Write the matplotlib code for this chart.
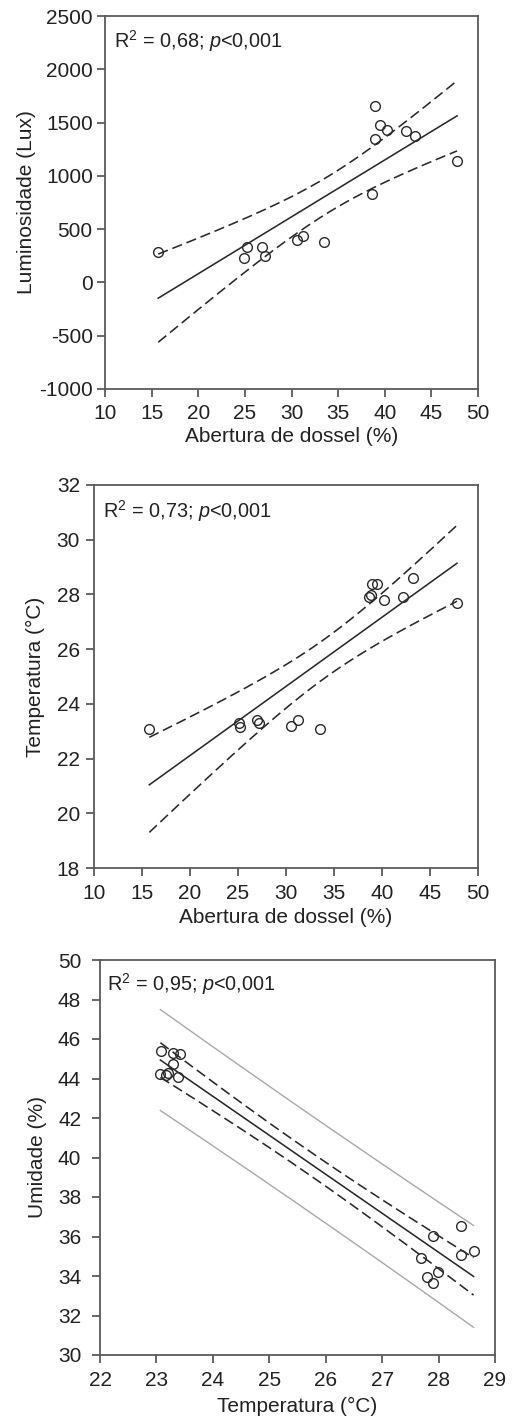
import numpy as np
import matplotlib
matplotlib.use('Agg')
import matplotlib.pyplot as plt

plt.rcParams['font.family'] = ['Liberation Sans', 'DejaVu Sans']
plt.rcParams['mathtext.fontset'] = 'custom'
plt.rcParams['mathtext.rm'] = 'Liberation Sans'
plt.rcParams['mathtext.it'] = 'Liberation Sans:italic'
plt.rcParams['axes.unicode_minus'] = False

# ---------------- data ----------------
dossel_lux = [15.71, 25.18, 24.93, 26.89, 27.21, 30.54, 31.25, 33.50,
              38.68, 38.96, 38.96, 39.46, 40.25, 42.25, 43.25, 47.75]
lux = [281, 331, 228, 331, 244, 394, 437, 378,
       831, 1656, 1350, 1475, 1428, 1419, 1378, 1141]

dossel_temp = [15.76, 25.13, 25.23, 26.93, 27.17, 30.50, 31.27, 33.52,
               38.66, 39.00, 39.49, 38.83, 40.18, 42.20, 43.24, 47.81]
temp = [23.09, 23.30, 23.17, 23.42, 23.30, 23.20, 23.42, 23.09,
        27.90, 28.38, 28.38, 27.98, 27.80, 27.90, 28.59, 27.70]

temp_umid = [23.08, 23.07, 23.21, 23.29, 23.41, 23.30, 23.39, 23.17,
             27.91, 28.40, 28.39, 28.62, 27.69, 27.99, 27.80, 27.91]
umid = [45.41, 44.21, 44.26, 45.31, 45.22, 44.72, 44.09, 44.18,
        36.03, 36.53, 35.06, 35.28, 34.93, 34.22, 33.93, 33.63]

stats_text = [r"R$^{2}$ = 0,68; $p$<0,001",
              r"R$^{2}$ = 0,73; $p$<0,001",
              r"R$^{2}$ = 0,95; $p$<0,001"]
xlabels = ["Abertura de dossel (%)", "Abertura de dossel (%)", "Temperatura (°C)"]
ylabels = ["Luminosidade (Lux)", "Temperatura (°C)", "Umidade (%)"]
xticks_list = [list(range(10, 51, 5)), list(range(10, 51, 5)), list(range(22, 30))]
yticks_list = [list(range(-1000, 2501, 500)), list(range(18, 33, 2)), list(range(30, 51, 2))]

T_975 = 2.1448  # Student t, 0.975, df = 14


def regression(x, y, xs):
    x = np.asarray(x, float)
    y = np.asarray(y, float)
    n = len(x)
    b, a = np.polyfit(x, y, 1)
    yhat = a + b * xs
    s = np.sqrt(np.sum((y - (a + b * x)) ** 2) / (n - 2))
    sxx = np.sum((x - x.mean()) ** 2)
    ci = T_975 * s * np.sqrt(1.0 / n + (xs - x.mean()) ** 2 / sxx)
    pi = T_975 * s * np.sqrt(1.0 + 1.0 / n + (xs - x.mean()) ** 2 / sxx)
    return yhat, ci, pi


W, H = 516, 1417
fig = plt.figure(figsize=(W / 100, H / 100), dpi=100)

# axes boxes in pixels: left, top, right, bottom
boxes = [(105, 16, 478, 389), (94, 485, 478, 868), (100, 960, 495, 1355)]
ytick_pad = [3.0, 4.3, 7.7]
ylabel_pad = [2.5, 8.5, 8.0]
xtick_pad = [5.0, 5.5, 5.5]
xlabel_pad = [3.0, 4.0, 5.0]
text_off = [(9, 12), (9, 13), (7, 11)]
datasets = [(dossel_lux, lux), (dossel_temp, temp), (temp_umid, umid)]
show_pi = [False, False, True]

spine_c = '#5a5a5a'
line_c = '#2a2a2a'

for i in range(3):
    l, t, r, b = boxes[i]
    ax = fig.add_axes([l / W, (H - b) / H, (r - l) / W, (b - t) / H])
    x, y = datasets[i]
    xs = np.linspace(min(x), max(x), 200)
    yhat, ci, pi = regression(x, y, xs)

    if show_pi[i]:
        ax.plot(xs, yhat + pi, color='#a8a8a8', lw=1.0)
        ax.plot(xs, yhat - pi, color='#a8a8a8', lw=1.0)
    ax.plot(xs, yhat + ci, color=line_c, lw=1.15, dashes=(6.5, 3))
    ax.plot(xs, yhat - ci, color=line_c, lw=1.15, dashes=(6.5, 3))
    ax.plot(xs, yhat, color=line_c, lw=1.15)
    ax.plot(x, y, linestyle='none', marker='o', markersize=7,
            markerfacecolor='none', markeredgecolor=line_c, markeredgewidth=1.0)

    xt, yt = xticks_list[i], yticks_list[i]
    ax.set_xlim(xt[0], xt[-1])
    ax.set_ylim(yt[0], yt[-1])
    ax.set_xticks(xt)
    ax.set_yticks(yt)
    for sp in ax.spines.values():
        sp.set_color(spine_c)
        sp.set_linewidth(1.3)
    ax.tick_params(direction='out', length=5.8, width=1.3, color=spine_c,
                   labelsize=15, labelcolor='#222222', top=False, right=False)
    ax.tick_params(axis='x', pad=xtick_pad[i])
    ax.tick_params(axis='y', pad=ytick_pad[i])
    ax.set_xlabel(xlabels[i], fontsize=15, color='#222222', labelpad=xlabel_pad[i])
    ax.set_ylabel(ylabels[i], fontsize=15, color='#222222', labelpad=ylabel_pad[i])

    dx, dy = text_off[i]
    ax.text(dx / (r - l), 1 - dy / (b - t), stats_text[i], transform=ax.transAxes,
            ha='left', va='top', fontsize=14.3, color='#222222')

fig.savefig('out.png', dpi=100)
